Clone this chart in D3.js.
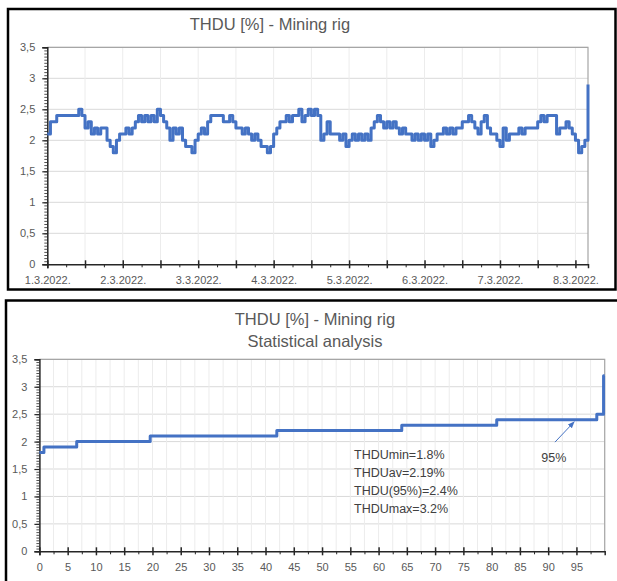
<!DOCTYPE html>
<html><head><meta charset="utf-8">
<script src="https://cdn.jsdelivr.net/npm/d3@7"></script>
<style>
body{margin:0;background:#fff;}
svg{display:block;}
text{font-family:"Liberation Sans",Arial,sans-serif;}
</style>
</head><body>
<svg id="c" width="617" height="581"></svg>
<script>
// ---------- data ----------
const dayLabels = ["1.3.2022.","2.3.2022.","3.3.2022.","4.3.2022.","5.3.2022.","6.3.2022.","7.3.2022.","8.3.2022."];
// hourly THDU [%] readings from 1.3.2022 00:00
const hourlyTHDU = [
2.1,2.3,2.3,2.4,2.4,2.4,2.4,2.4,2.4,2.4,2.5,2.4,2.2,2.3,2.1,2.2,2.1,2.2,2.2,2.0,1.9,1.8,2.0,2.1,
2.1,2.2,2.1,2.2,2.3,2.4,2.3,2.4,2.3,2.4,2.3,2.5,2.4,2.3,2.2,2.0,2.2,2.1,2.2,2.0,1.9,1.9,1.8,2.0,
2.1,2.2,2.1,2.3,2.4,2.4,2.4,2.4,2.3,2.3,2.4,2.3,2.2,2.2,2.1,2.2,2.1,2.0,2.1,2.0,1.9,1.9,1.8,1.9,
2.1,2.2,2.3,2.3,2.4,2.3,2.4,2.4,2.5,2.3,2.4,2.5,2.4,2.5,2.4,2.0,2.1,2.3,2.1,2.1,2.1,2.0,2.1,1.9,
2.0,2.1,2.0,2.1,2.0,2.1,2.0,2.2,2.3,2.4,2.3,2.2,2.3,2.2,2.3,2.2,2.1,2.2,2.1,2.1,2.0,2.1,2.0,2.1,
2.0,2.1,1.9,2.0,2.1,2.1,2.2,2.1,2.2,2.1,2.2,2.2,2.3,2.3,2.4,2.3,2.2,2.1,2.3,2.4,2.2,2.1,2.1,2.0,
1.9,2.2,2.0,2.1,2.1,2.1,2.2,2.1,2.2,2.2,2.2,2.2,2.3,2.4,2.3,2.4,2.4,2.4,2.1,2.2,2.2,2.3,2.2,2.1,
2.0,1.8,1.9,2.0,2.9
];
const yTicks = [0,0.5,1,1.5,2,2.5,3,3.5];
const yTickLabels = ["0","0,5","1","1,5","2","2,5","3","3,5"];
const pctTicks = [0,5,10,15,20,25,30,35,40,45,50,55,60,65,70,75,80,85,90,95];
// duration curve: percentage of time at which each sorted level starts
const pctSteps   = [0,  0.8, 6.6, 19.6, 42.0, 64.1, 80.9, 98.6, 99.8, 100];
const thduSorted = [1.8,1.9, 2.0, 2.1,  2.2,  2.3,  2.4,  2.5,  3.2,  3.2];
const statLines = ["THDUmin=1.8%","THDUav=2.19%","THDU(95%)=2.4%","THDUmax=3.2%"];
const topTitle = "THDU [%] - Mining rig";
const bottomTitle = ["THDU [%] - Mining rig","Statistical analysis"];
const p95Label = "95%";

// ---------- drawing ----------
const svg = d3.select("#c");
const BLUE = "#4472c4", LABEL = "#595959", GRIDH = "#d9d9d9", GRIDV = "#ececec", AXIS = "#262626";

// frames
svg.append("rect").attr("x",8).attr("y",9).attr("width",607.5).attr("height",280.5)
  .attr("fill","#fff").attr("stroke","#000").attr("stroke-width",2.5);
svg.append("rect").attr("x",6).attr("y",300.5).attr("width",700).attr("height",400)
  .attr("fill","#fff").attr("stroke","#000").attr("stroke-width",2.5);

function drawChart(cfg){
  const g = svg.append("g");
  const {x, y, vGrid, majorX, minorX, xLabel, titleLines, titleX, titleYs} = cfg;
  const [x0,x1] = x.range(), [y0,y1] = y.range();
  // horizontal grid
  g.append("g").selectAll("line").data(yTicks.filter(d=>d>0)).join("line")
    .attr("x1",x0).attr("x2",x1).attr("y1",d=>y(d)).attr("y2",d=>y(d))
    .attr("stroke",GRIDH).attr("stroke-width",1);
  // vertical grid
  g.append("g").selectAll("line").data(vGrid).join("line")
    .attr("x1",d=>x(d)).attr("x2",d=>x(d)).attr("y1",y0).attr("y2",y1)
    .attr("stroke",GRIDV).attr("stroke-width",1);
  // plot border (top/right)
  g.append("path").attr("d",`M${x0},${y1}H${x1}V${y0}`).attr("fill","none")
    .attr("stroke","#a6a6a6").attr("stroke-width",1.2);
  // titles
  titleLines.forEach((t,i)=>{
    g.append("text").attr("x",titleX).attr("y",titleYs[i]).attr("text-anchor","middle")
      .attr("fill",LABEL).attr("font-size",16.5).text(t);
  });
  // y minor ticks
  const yMinor = d3.range(0,3.5001,0.05).map(v=>+v.toFixed(2));
  g.append("g").attr("transform",`translate(${x0},0)`)
    .call(d3.axisLeft(y).tickValues(yMinor).tickSize(3).tickFormat(""))
    .call(s=>{s.select(".domain").remove(); s.selectAll("line").attr("stroke",AXIS).attr("stroke-width",0.8);});
  // y axis
  const ya = g.append("g").attr("transform",`translate(${x0},0)`)
    .call(d3.axisLeft(y).tickValues(yTicks).tickFormat((d,i)=>yTickLabels[i]).tickSize(5).tickPadding(7));
  ya.select(".domain").attr("stroke",AXIS).attr("stroke-width",1.5);
  ya.selectAll("line").attr("stroke",AXIS).attr("stroke-width",1.2);
  ya.selectAll("text").attr("fill",LABEL).attr("font-size",11).attr("font-family","Liberation Sans, Arial, sans-serif");
  // x minor ticks
  g.append("g").attr("transform",`translate(0,${y0})`)
    .call(d3.axisBottom(x).tickValues(minorX).tickSize(3).tickFormat(""))
    .call(s=>{s.select(".domain").remove(); s.selectAll("line").attr("stroke",AXIS).attr("stroke-width",1);});
  // x axis
  const xa = g.append("g").attr("transform",`translate(0,${y0})`)
    .call(d3.axisBottom(x).tickValues(majorX).tickFormat(xLabel).tickSize(4));
  xa.select(".domain").attr("stroke",AXIS).attr("stroke-width",1.5);
  xa.selectAll("line").attr("y1",-4).attr("stroke",AXIS).attr("stroke-width",1.5);
  xa.selectAll("text").attr("y",12).attr("fill",LABEL).attr("font-size",11).attr("font-family","Liberation Sans, Arial, sans-serif");
  return g;
}

// ---- top chart ----
const xT = d3.scaleLinear().domain([0,172]).range([47.3,588]);
const yT = d3.scaleLinear().domain([0,3.5]).range([264.3,47.3]);
const gT = drawChart({
  x:xT, y:yT,
  vGrid:d3.range(12,172,12),
  majorX:d3.range(0,172,12),
  minorX:d3.range(6,172,12),
  xLabel:d=> d%24===0 ? dayLabels[d/24] : "",
  titleLines:[topTitle], titleX:270, titleYs:[29.5]
});
gT.append("path").datum(hourlyTHDU)
  .attr("d", d3.line().x((d,i)=>xT(i)).y(d=>yT(d)).curve(d3.curveStepAfter))
  .attr("fill","none").attr("stroke",BLUE).attr("stroke-width",3).attr("stroke-linejoin","round");

// ---- bottom chart ----
const xB = d3.scaleLinear().domain([0,100]).range([39.4,604.7]);
const yB = d3.scaleLinear().domain([0,3.5]).range([551.3,359.3]);
const gB = drawChart({
  x:xB, y:yB,
  vGrid:d3.range(2.5,100.1,2.5),
  majorX:pctTicks,
  minorX:d3.range(2.5,100,5),
  xLabel:d=>String(d),
  titleLines:bottomTitle, titleX:315, titleYs:[324.5,347]
});
gB.append("path").datum(pctSteps.map((p,i)=>[p,thduSorted[i]]))
  .attr("d", d3.line().x(d=>xB(d[0])).y(d=>yB(d[1])).curve(d3.curveStepAfter))
  .attr("fill","none").attr("stroke",BLUE).attr("stroke-width",3).attr("stroke-linejoin","round");

// stats text
statLines.forEach((t,i)=>{
  gB.append("text").attr("x",354).attr("y",458.5+i*18).attr("fill","#404040")
    .attr("font-size",12.5).text(t);
});
// 95% annotation arrow
const defs = svg.append("defs");
defs.append("marker").attr("id","arr").attr("viewBox","0 0 10 10").attr("refX",9).attr("refY",5)
  .attr("markerWidth",7).attr("markerHeight",7).attr("orient","auto")
  .append("path").attr("d","M0,1L10,5L0,9Z").attr("fill",BLUE);
gB.append("line").attr("x1",xB(91.2)).attr("y1",yB(1.99)).attr("x2",xB(94.6)).attr("y2",yB(2.36))
  .attr("stroke",BLUE).attr("stroke-width",1).attr("marker-end","url(#arr)");
gB.append("text").attr("x",xB(91.0)).attr("y",462).attr("text-anchor","middle")
  .attr("fill","#404040").attr("font-size",12.5).text(p95Label);
</script>
</body></html>
